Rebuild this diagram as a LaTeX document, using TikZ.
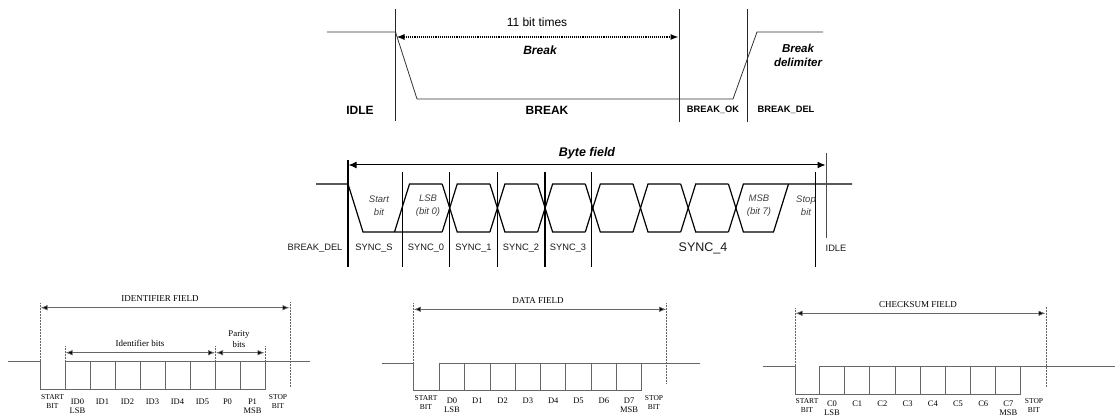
\documentclass[tikz,border=0pt]{standalone}
\usepackage{fontspec}
\setmainfont{Liberation Sans}
\newfontfamily\serifly{Liberation Serif}
\usetikzlibrary{arrows.meta}
\begin{document}
\begin{tikzpicture}[x=1pt,y=-1pt,
  txt/.style={inner sep=0pt, anchor=center},
  tline/.style={line width=0.8pt, draw=black!80},
  tvert/.style={line width=0.8pt, draw=black!85},
  dotarrow/.style={line width=1.1pt, densely dotted, {Latex[length=8pt,width=6pt]}-{Latex[length=8pt,width=6pt]}},
  mwave/.style={line width=1.2pt, draw=black},
  mvert/.style={line width=1.3pt, draw=black},
  marrow/.style={line width=1pt, {Latex[length=8pt,width=7pt]}-{Latex[length=8pt,width=7pt]}},
  bline/.style={line width=0.7pt, draw=black!60},
  bdot/.style={line width=0.5pt, draw=black!60, densely dotted},
  barrow/.style={line width=0.7pt, draw=black!60, {Latex[length=7pt,width=5.5pt,fill=black]}-{Latex[length=7pt,width=5.5pt,fill=black]}},
  tb/.style={txt, font=\fontsize{12}{14}\selectfont\bfseries},
  ts/.style={txt, font=\fontsize{9.3}{11}\selectfont\bfseries},
  tbi/.style={txt, font=\fontsize{12}{14}\selectfont\bfseries\itshape, align=center},
  mlab/.style={txt, font=\fontsize{9.3}{11}\selectfont, text=black!90},
  mit/.style={txt, font=\fontsize{9.5}{13}\selectfont\itshape, text=black!75, align=center},
  sf/.style={txt, font=\serifly\fontsize{9}{10}\selectfont, text=black},
  sc/.style={txt, font=\serifly\fontsize{8.5}{9}\selectfont, text=black, align=center},
  ss/.style={txt, font=\serifly\fontsize{7.5}{9.3}\selectfont, text=black, align=center}
]
\useasboundingbox (0,0) rectangle (1115,419);

% ---------------- top: break ----------------
\draw[tline] (327,32) -- (395.5,32) -- (417,99) -- (733,99) -- (757,32) -- (823,32);
\draw[tvert] (395.7,9) -- (395.7,121);
\draw[tvert] (679,9) -- (679,122);
\draw[tvert] (747,9) -- (747,122);
\coordinate (bA) at (396.5,37);
\coordinate (bB) at (678.5,37);
\draw[dotarrow] (bA) -- (bB);
\node[txt, font=\fontsize{12}{14}\selectfont] (t11) at (537,22) {11 bit times};
\node[tbi] (tbrk) at (540,50) {Break};
\node[tbi, font=\fontsize{11.5}{14}\selectfont\bfseries\itshape] (tdel) at (798,55) {Break\\delimiter};
\node[tb] (tidle) at (360,110) {IDLE};
\node[tb] (tbreak) at (547,110) {BREAK};
\node[ts] (tok) at (713,110) {BREAK\_OK};
\node[ts] (tbd) at (786,110) {BREAK\_DEL};

% ---------------- middle: sync byte ----------------
\def\H{184}\def\L{232}
\draw[mwave] (316,\H) -- (348,\H) -- (363,\L) -- (442.2,\L);
\draw[mwave] (394.5,\L) -- (409.5,\H) -- (442.2,\H);
\foreach \t/\n in {449.7/497.4, 497.4/545.1, 545.1/592.8, 592.8/640.5, 640.5/688.2, 688.2/735.9}{
  \draw[mwave] (\t-7.5,\H) -- (\t+7.5,\L) -- (\n-7.5,\L);
  \draw[mwave] (\t-7.5,\L) -- (\t+7.5,\H) -- (\n-7.5,\H);
}
\draw[mwave] (728.4,\H) -- (743.4,\L) -- (773.5,\L) -- (788.5,\H);
\draw[mwave] (728.4,\L) -- (743.4,\H) -- (852,\H);
\draw[mvert] (348,160) -- (348,266.7);
\foreach \x in {402.3,449.7,497.3,545,591.7}{
  \draw[mvert] (\x,171.7) -- (\x,266.7);
}
\draw[mvert] (815.7,172) -- (815.7,266.7);
\draw[line width=1pt, draw=black!70] (826,153) -- (826,238);
\coordinate (yA) at (348.6,165);
\coordinate (yB) at (825.5,165);
\draw[marrow] (yA) -- (yB);
\node[tbi, font=\fontsize{12.5}{14}\selectfont\bfseries\itshape] (tbyte) at (587,153) {Byte field};
\node[mit] (mstart) at (379,205.5) {Start\\bit};
\node[mit] (mlsb) at (428,205.5) {LSB\\(bit 0)};
\node[mit] (mmsb) at (759,205.5) {MSB\\(bit 7)};
\node[mit] (mstop) at (806,205.5) {Stop\\bit};
\node[mlab] (mbd) at (315,248.3) {BREAK\_DEL};
\node[mlab] (ms) at (374,248.3) {SYNC\_S};
\node[mlab] (m0) at (426,248.3) {SYNC\_0};
\node[mlab] (m1) at (473.5,248.3) {SYNC\_1};
\node[mlab] (m2) at (521,248.3) {SYNC\_2};
\node[mlab] (m3) at (568,248.3) {SYNC\_3};
\node[txt, font=\fontsize{12.5}{14}\selectfont, text=black!90] (m4) at (703,248.3) {SYNC\_4};
\node[mlab] (midle) at (836,248.3) {IDLE};

% ---------------- bottom left: identifier field ----------------
\draw[bline] (8,361) -- (40,361) -- (40,389) -- (265,389) -- (265,361);
\draw[bline] (65,361) -- (310,361);
\foreach \i in {0,...,7}{
  \draw[bline] (65+25*\i,361) -- (65+25*\i,389);
}
\draw[bdot] (40,303) -- (40,361);
\draw[bdot] (290,302) -- (290,387);
\draw[bdot] (65,346) -- (65,361);
\draw[bdot] (215.5,346) -- (215.5,361);
\draw[bdot] (265,346) -- (265,361);
\coordinate (iA) at (40.5,307.7);
\coordinate (iB) at (289.5,307.7);
\coordinate (jA) at (65.5,352.7);
\coordinate (jB) at (215,352.7);
\coordinate (kA) at (216,352.7);
\coordinate (kB) at (264.5,352.7);
\draw[barrow] (iA) -- (iB);
\draw[barrow] (jA) -- (jB);
\draw[barrow] (kA) -- (kB);
\node[sf] (fid) at (160,299) {IDENTIFIER FIELD};
\node[sf] (fidb) at (140,343) {Identifier bits};
\node[sf, align=center, font=\serifly\fontsize{8.8}{11}\selectfont] (fpar) at (239,339.5) {Parity\\bits};
\node[ss] (istart) at (52.5,401.3) {START\\BIT};
\node[sc] (i0) at (77.5,406.2) {ID0\\LSB};
\foreach \i/\lab in {1/ID1,2/ID2,3/ID3,4/ID4,5/ID5,6/P0}{
  \node[sc] (i\i) at (77.5+25*\i,401.7) {\lab};
}
\node[sc] (i7) at (252.5,406.2) {P1\\MSB};
\node[ss] (istop) at (278,401.5) {STOP\\BIT};

% ---------------- bottom middle: data field ----------------
\draw[bline] (382,363.3) -- (413.3,363.3) -- (413.3,390.7) -- (641.7,390.7) -- (641.7,363.3);
\draw[bline] (439.3,363.3) -- (700,363.3);
\foreach \i in {0,...,7}{
  \draw[bline] (439.3+25.3*\i,363.3) -- (439.3+25.3*\i,390.7);
}
\draw[bdot] (413.3,303) -- (413.3,363.3);
\draw[bdot] (666.7,303) -- (666.7,383);
\coordinate (dA) at (413.8,309.3);
\coordinate (dB) at (666.2,309.3);
\draw[barrow] (dA) -- (dB);
\node[sf] (fdata) at (538,301) {DATA FIELD};
\node[ss] (dstart) at (426,402.8) {START\\BIT};
\node[sc] (d0) at (452,405.7) {D0\\LSB};
\foreach \i/\lab in {1/D1,2/D2,3/D3,4/D4,5/D5,6/D6}{
  \node[sc] (d\i) at (452+25.3*\i,400.7) {\lab};
}
\node[sc] (d7) at (629.1,405.7) {D7\\MSB};
\node[ss] (dstop) at (654,402.8) {STOP\\BIT};

% ---------------- bottom right: checksum field ----------------
\draw[bline] (763,366.7) -- (795,366.7) -- (795,394) -- (1020.7,394) -- (1020.7,366.7);
\draw[bline] (819.3,366.7) -- (1115,366.7);
\foreach \i in {0,...,7}{
  \draw[bline] (819.3+25.2*\i,366.7) -- (819.3+25.2*\i,394);
}
\draw[bdot] (795,308) -- (795,366.7);
\draw[bdot] (1046,306.7) -- (1046,386.7);
\coordinate (cA) at (795.5,313.3);
\coordinate (cB) at (1045.5,313.3);
\draw[barrow] (cA) -- (cB);
\node[sf] (fchk) at (918,305) {CHECKSUM FIELD};
\node[ss] (cstart) at (807,405.5) {START\\BIT};
\node[sc] (c0) at (832,408.2) {C0\\LSB};
\foreach \i/\lab in {1/C1,2/C2,3/C3,4/C4,5/C5,6/C6}{
  \node[sc] (c\i) at (832+25.2*\i,404) {\lab};
}
\node[sc] (c7) at (1008.4,408.2) {C7\\MSB};
\node[ss] (cstop) at (1034,405.5) {STOP\\BIT};
\end{tikzpicture}
\end{document}
